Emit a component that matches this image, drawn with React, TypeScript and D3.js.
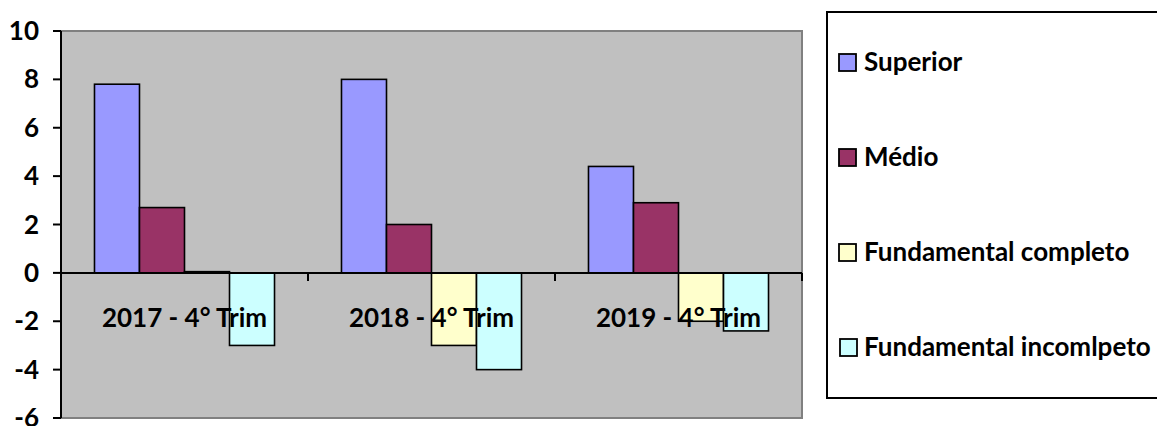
import * as React from "react";
import { scaleBand, scaleLinear, range } from "d3";

const categories = ["2017 - 4° Trim", "2018 - 4° Trim", "2019 - 4° Trim"];
const seriesNames = ["Superior", "Médio", "Fundamental completo", "Fundamental incomlpeto"];
const superior = [7.8, 8.0, 4.4];
const medio = [2.7, 2.0, 2.9];
const fundCompleto = [0.05, -3.0, -2.0];
const fundIncompleto = [-3.0, -4.0, -2.4];
const yTicks = [10, 8, 6, 4, 2, 0, -2, -4, -6];

const seriesValues = [superior, medio, fundCompleto, fundIncompleto];
const colors = ["#9999FF", "#993366", "#FFFFCC", "#CCFFFF"];

const W = 1157;
const H = 426;
const plot = { left: 61, right: 802, top: 31, bottom: 418 };
const font = "Lato, 'Open Sans', sans-serif";

export default function App() {
  const x = scaleBand()
    .domain(categories)
    .range([plot.left, plot.right]);

  const inner = scaleBand()
    .domain(range(seriesNames.length).map((d) => `${d}`))
    .range([0, x.bandwidth()])
    .paddingOuter(0.744);

  const y = scaleLinear().domain([-6, 10]).range([plot.bottom, plot.top]);

  const legendY = [62, 157, 252, 347];

  return (
    <svg
      width={W}
      height={H}
      style={{ position: "absolute", left: 0, top: 0, background: "white" }}
      fontFamily={font}
      fontWeight="bold"
    >
      <rect
        x={plot.left}
        y={plot.top}
        width={plot.right - plot.left}
        height={plot.bottom - plot.top}
        fill="#C0C0C0"
        stroke="#808080"
        strokeWidth={2}
      />

      {seriesValues.map((vals, si) =>
        vals.map((v, ci) => {
          const bx = (x(categories[ci]) as number) + (inner(`${si}`) as number);
          const y0 = y(0);
          const y1 = y(v);
          return (
            <rect
              key={`${si}-${ci}`}
              x={bx}
              y={Math.min(y0, y1)}
              width={inner.bandwidth()}
              height={Math.abs(y1 - y0)}
              fill={colors[si]}
              stroke="#000"
              strokeWidth={1.6}
            />
          );
        })
      )}

      {/* y axis */}
      <line x1={plot.left} x2={plot.left} y1={plot.top} y2={plot.bottom} stroke="#000" strokeWidth={2} />
      {yTicks.map((t) => (
        <g key={t} transform={`translate(0,${y(t)})`}>
          <line x1={plot.left - 8} x2={plot.left} stroke="#000" strokeWidth={2} />
          <text x={39} dy="0.35em" textAnchor="end" fontSize={26} fill="#000">
            {t}
          </text>
        </g>
      ))}

      {/* x axis */}
      <line x1={plot.left} x2={plot.right} y1={y(0)} y2={y(0)} stroke="#000" strokeWidth={2} />
      {categories.map((c) => (
        <g key={c}>
          <line
            x1={(x(c) as number) + x.bandwidth()}
            x2={(x(c) as number) + x.bandwidth()}
            y1={y(0)}
            y2={y(0) + 8}
            stroke="#000"
            strokeWidth={2}
          />
          <text
            x={(x(c) as number) + x.bandwidth() / 2}
            y={327}
            textAnchor="middle"
            fontSize={26}
            fill="#000"
          >
            {c}
          </text>
        </g>
      ))}

      {/* legend */}
      <rect x={827} y={12} width={340} height={386} fill="white" stroke="#000" strokeWidth={2} />
      {seriesNames.map((s, i) => (
        <g key={s} transform={`translate(0,${legendY[i]})`}>
          <rect
            x={i === 3 ? 840 : 839}
            y={-8}
            width={17}
            height={17}
            fill={colors[i]}
            stroke="#000"
            strokeWidth={1.8}
          />
          <text x={864} dy="0.35em" fontSize={26} fill="#000">
            {s}
          </text>
        </g>
      ))}
    </svg>
  );
}
